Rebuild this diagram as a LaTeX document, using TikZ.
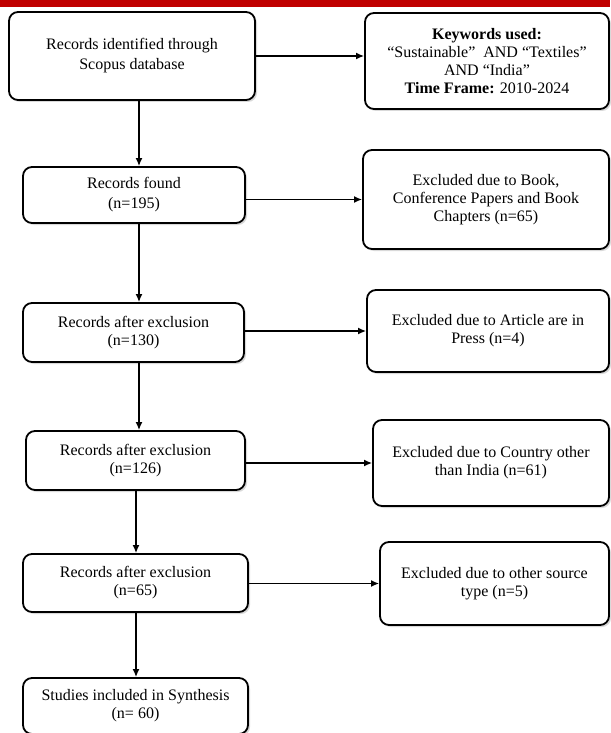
\documentclass[tikz,border=0pt]{standalone}
\usepackage{fontspec}
\setmainfont{Liberation Serif}
\usepackage{xcolor}
\usepackage{tikz}
\usetikzlibrary{calc}
\usetikzlibrary{shadows}
\usetikzlibrary{arrows.meta}
\definecolor{topbar}{RGB}{192,0,0}

\begin{document}
\begin{tikzpicture}[x=1pt, y=-1pt,
	box/.style={draw, line width=1.8pt, rounded corners=9pt, fill=white, align=center,
		drop shadow={shadow xshift=2pt, shadow yshift=-2pt, opacity=0.3},
		font=\fontsize{16}{18}\selectfont},
	flow/.style={line width=1.5pt, ->, >={Latex[length=8pt,width=7pt]}}]
	
	\useasboundingbox (0,0) rectangle (610,733);
	\fill [topbar] (0,0) rectangle (610,7);
	
	\coordinate (trunk) at (139,0);
	\coordinate (trunkb) at (136,0);
	
	\node [box, minimum width=246, minimum height=88, font=\fontsize{16}{20}\selectfont] (ident) at (132,56) {Records identified through\\Scopus database};
	\node [box, minimum width=244, minimum height=96] (keys) at (487,61) {\textbf{Keywords used:}\\“Sustainable”\ \ AND “Textiles”\\AND “India”\\\textbf{Time Frame:} 2010-2024};
	
	\node [box, minimum width=222, minimum height=56, font=\fontsize{16}{20}\selectfont] (found) at (134,195) {Records found\\(n=195)};
	\node [box, minimum width=246, minimum height=99] (book) at (486,199.5) {Excluded due to Book,\\Conference Papers and Book\\Chapters (n=65)};
	
	\node [box, minimum width=221, minimum height=59] (after1) at (133.5,332.5) {Records after exclusion\\(n=130)};
	\node [box, minimum width=242, minimum height=82] (press) at (488,331) {Excluded due to Article are in\\Press (n=4)};
	
	\node [box, minimum width=219, minimum height=59] (after2) at (135.5,460.5) {Records after exclusion\\(n=126)};
	\node [box, minimum width=236, minimum height=86] (country) at (491,463) {Excluded due to Country other\\than India (n=61)};
	
	\node [box, minimum width=225, minimum height=58] (after3) at (135.5,583) {Records after exclusion\\(n=65)};
	\node [box, minimum width=229, minimum height=83] (other) at (494.5,583.5) {Excluded due to other source\\type (n=5)};
	
	\node [box, minimum width=225, minimum height=56] (incl) at (135.5,706) {Studies included in Synthesis\\(n= 60)};
	
	\draw [flow] (ident.south -| trunk) -- (found.north -| trunk);
	\draw [flow] (found.south -| trunk) -- (after1.north -| trunk);
	\draw [flow] (after1.south -| trunk) -- (after2.north -| trunk);
	\draw [flow] (after2.south -| trunkb) -- (after3.north -| trunkb);
	\draw [flow] (after3.south -| trunkb) -- (incl.north -| trunkb);
	
	\draw [flow] (ident.east) -- (ident.east -| keys.west);
	\draw [flow] (found.east |- book.west) -- (book.west);
	\draw [flow] (after1.east |- press.west) -- (press.west);
	\draw [flow] (after2.east |- country.west) -- (country.west);
	\draw [flow] (after3.east |- other.west) -- (other.west);
	
\end{tikzpicture}
\end{document}
